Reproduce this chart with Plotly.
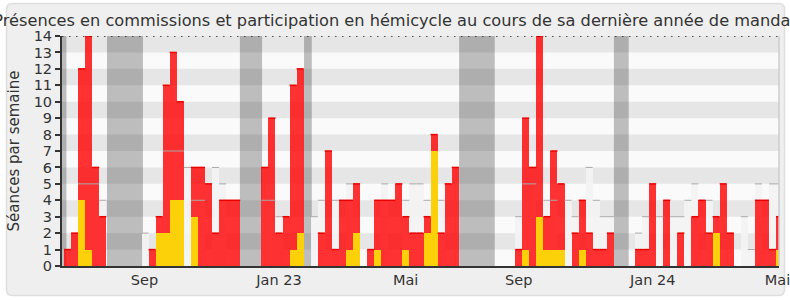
import plotly.graph_objects as go

# ---- data (one value per week, week index 0..101) ----
red = [1, 2, 12, 14, 6, 3, 0, 0, 0, 0, 0, 0, 1, 3, 11, 13, 10, 0, 6, 6,
       5, 2, 4, 4, 4, 0, 0, 0, 6, 9, 2, 3, 11, 12, 0, 0, 2, 7, 1, 4,
       4, 5, 0, 1, 4, 4, 4, 5, 3, 2, 2, 3, 8, 2, 5, 6, 0, 0, 0, 0,
       0, 0, 0, 0, 1, 9, 6, 14, 3, 7, 5, 0, 2, 4, 2, 1, 1, 2, 0, 0,
       0, 1, 1, 5, 0, 4, 0, 2, 0, 3, 4, 2, 3, 5, 2, 0, 0, 0, 4, 4,
       1, 3]
yellow = [0, 0, 4, 1, 0, 0, 0, 0, 0, 0, 0, 0, 0, 2, 2, 4, 4, 0, 3, 0,
          0, 0, 0, 0, 0, 0, 0, 0, 0, 0, 0, 0, 1, 2, 0, 0, 0, 0, 0, 0,
          1, 2, 0, 0, 1, 0, 0, 0, 1, 0, 0, 2, 7, 0, 0, 0, 0, 0, 0, 0,
          0, 0, 0, 0, 0, 1, 0, 3, 1, 1, 1, 0, 0, 1, 0, 0, 0, 0, 0, 0,
          0, 0, 0, 0, 0, 0, 0, 0, 0, 0, 0, 0, 2, 0, 0, 0, 0, 0, 0, 0,
          0, 1]
median = [0, 0, 5, 5, 5, 4, 0, 0, 0, 0, 0, 2, 0, 0, 7, 7, 7, 6, 4, 4,
          0, 6, 5, 0, 0, 0, 0, 0, 4, 4, 3, 0, 0, 0, 0, 3, 4, 0, 4, 0,
          5, 0, 0, 0, 0, 5, 0, 0, 4, 5, 5, 4, 0, 4, 0, 0, 0, 0, 0, 0,
          0, 0, 0, 0, 3, 5, 5, 0, 4, 4, 0, 4, 3, 0, 6, 4, 3, 3, 0, 0,
          0, 2, 3, 0, 3, 0, 3, 3, 4, 5, 0, 4, 0, 0, 0, 0, 3, 1, 5, 0,
          5, 5]
weeks = list(range(len(red)))

# parliamentary holidays (in week units)
vac_start = [-1.0, 5.6, 24.45, 33.55, 55.55, 77.5]
vac_end = [-0.15, 10.7, 27.6, 34.65, 60.6, 79.6]

tick_pos = [10.92, 30.0, 47.97, 64.01, 83.02, 100.7]
tick_text = ["Sep", "Jan 23", "Mai", "Sep", "Jan 24", "Mai"]

TITLE = "Présences en commissions et participation en hémicycle au cours de sa dernière année de mandat"
YTITLE = "Séances par semaine"

FONT = "DejaVu Sans"
W, H = 790, 300
ML, MR, MT, MB = 62, 11, 36, 34


def nz(vals):
    return [v if v else None for v in vals]


def tops(vals):
    xs, ys = [], []
    for k, v in zip(weeks, vals):
        if v:
            xs += [k - 0.5, k + 0.5, None]
            ys += [v, v, None]
    return xs, ys


fig = go.Figure()

fig.add_trace(go.Bar(x=weeks, y=nz(median), width=1,
                     marker=dict(color="rgba(243,243,243,0.92)", line=dict(width=0)),
                     hoverinfo="skip", showlegend=False))
mx, my = tops(median)
fig.add_trace(go.Scatter(x=mx, y=my, mode="lines", line=dict(color="#aaaaaa", width=1),
                         hoverinfo="skip", showlegend=False))
fig.add_trace(go.Bar(x=weeks, y=nz(red), width=1,
                     marker=dict(color="rgba(255,0,0,0.8)", line=dict(width=0)),
                     showlegend=False))
rx, ry = tops(red)
fig.add_trace(go.Scatter(x=rx, y=ry, mode="lines", line=dict(color="rgb(235,0,0)", width=1.5),
                         hoverinfo="skip", showlegend=False))
fig.add_trace(go.Bar(x=weeks, y=nz(yellow), width=1,
                     marker=dict(color="#fdd10a", line=dict(width=0)),
                     showlegend=False))

shapes = []
# outer rounded frame (paper coordinates)
pw, ph = W - ML - MR, H - MT - MB


def px(x):
    return (x - ML) / pw


def py(y):
    return (H - MB - y) / ph


x0, x1, y0, y1, r = 6.5, 784.5, 3.5, 295.5, 6
path = (f"M {px(x0 + r)} {py(y0)} L {px(x1 - r)} {py(y0)} "
        f"Q {px(x1)} {py(y0)} {px(x1)} {py(y0 + r)} L {px(x1)} {py(y1 - r)} "
        f"Q {px(x1)} {py(y1)} {px(x1 - r)} {py(y1)} L {px(x0 + r)} {py(y1)} "
        f"Q {px(x0)} {py(y1)} {px(x0)} {py(y1 - r)} L {px(x0)} {py(y0 + r)} "
        f"Q {px(x0)} {py(y0)} {px(x0 + r)} {py(y0)} Z")
shapes.append(dict(type="path", path=path, xref="paper", yref="paper", layer="below",
                   fillcolor="#efefef", line=dict(color="#dedede", width=1.5)))

# plot-area background (subplot layer, above the frame)
shapes.append(dict(type="rect", xref="x domain", yref="y domain", x0=0, x1=1, y0=0, y1=1,
                   layer="below", fillcolor="#fafafa", line=dict(width=0)))
for a, b in zip(vac_start, vac_end):
    shapes.append(dict(type="rect", xref="x", yref="y domain", x0=a, x1=b, y0=0, y1=1,
                       layer="below", fillcolor="#bdbdbd", line=dict(width=0)))
for k in range(1, 14, 2):
    shapes.append(dict(type="rect", xref="x domain", yref="y", x0=0, x1=1, y0=k, y1=k + 1,
                       layer="below", fillcolor="rgba(0,0,0,0.08)", line=dict(width=0)))
shapes.append(dict(type="line", xref="x domain", yref="y", x0=0, x1=1, y0=14, y1=14,
                   layer="above", line=dict(color="#222222", width=1.5, dash="1.5px,5.5px")))
shapes.append(dict(type="line", xref="x domain", yref="y domain", x0=1, x1=1, y0=0, y1=1,
                   layer="above", line=dict(color="#cccccc", width=1.5)))

fig.update_layout(
    width=W, height=H,
    margin=dict(l=ML, r=MR, t=MT, b=MB, autoexpand=False),
    paper_bgcolor="white",
    plot_bgcolor="#fafafa",
    barmode="overlay", bargap=0,
    font=dict(family=FONT, color="#333333", size=14),
    title=dict(text=TITLE, x=0.5, xanchor="center", xref="container",
               y=1 - 20 / H, yanchor="middle", yref="container",
               font=dict(family=FONT, size=16.2, color="#333333")),
    shapes=shapes,
    xaxis=dict(range=[-0.78, 100.92], tickmode="array", tickvals=tick_pos, ticktext=tick_text,
               showgrid=False, zeroline=False, showline=True, linecolor="#333333", linewidth=2,
               ticks="", tickfont=dict(size=14.5, color="#333333"),
               ticklabeloverflow="allow", automargin=False),
    yaxis=dict(range=[0, 14], dtick=1, tick0=0, showgrid=False, zeroline=False,
               showline=True, linecolor="#333333", linewidth=2,
               ticks="outside", ticklen=5, tickwidth=2, tickcolor="#333333",
               tickfont=dict(size=14.5, color="#333333"), automargin=False,
               title=dict(text=YTITLE, standoff=10, font=dict(size=15, color="#333333"))),
)

fig.write_html("out.html")
